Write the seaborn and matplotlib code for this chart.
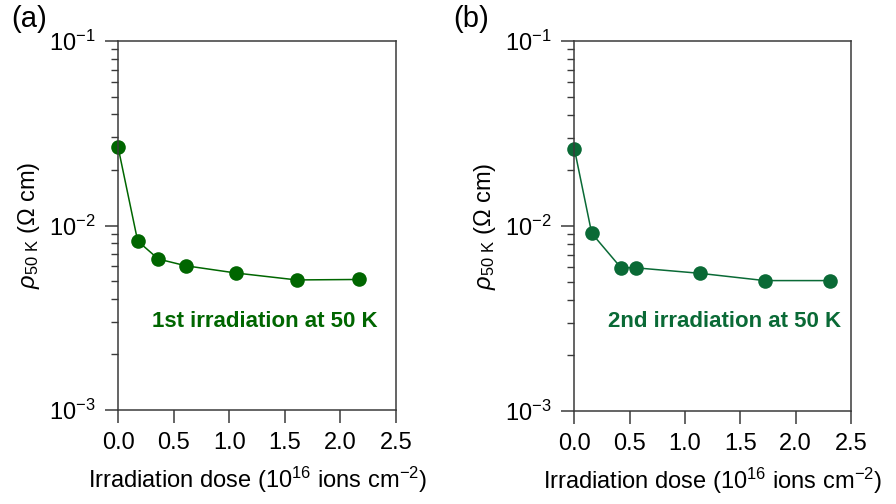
import numpy as np
import pandas as pd
import matplotlib
matplotlib.use("Agg")
import matplotlib.pyplot as plt
import seaborn as sns
from matplotlib.ticker import LogLocator, LogFormatterMathtext, NullFormatter, MultipleLocator

# ---- data ----
dose_a = [0.0, 0.177, 0.363, 0.61, 1.058, 1.607, 2.17]
rho_a = [0.0267, 0.00824, 0.00658, 0.00605, 0.00553, 0.00507, 0.0051]
dose_b = [0.0, 0.157, 0.42, 0.56, 1.135, 1.72, 2.31]
rho_b = [0.0262, 0.00914, 0.00596, 0.00594, 0.00555, 0.00507, 0.00507]
panel_labels = ["(a)", "(b)"]
annotations = ["1st irradiation at 50 K", "2nd irradiation at 50 K"]
colors = ["#006600", "#0a6a36"]
xlabel = r"Irradiation dose (10$^{16}$ ions cm$^{-2}$)"
ylabel = r"$\rho_{\mathrm{50\ K}}$ ($\Omega$ cm)"

sns.set_style("ticks")
plt.rcParams["font.family"] = ["Liberation Sans", "DejaVu Sans"]
plt.rcParams["mathtext.fontset"] = "custom"
plt.rcParams["mathtext.rm"] = "Liberation Sans"
plt.rcParams["mathtext.it"] = "Liberation Sans:italic"
plt.rcParams["mathtext.bf"] = "Liberation Sans:bold"
plt.rcParams["text.color"] = "black"
plt.rcParams["axes.labelcolor"] = "black"
plt.rcParams["xtick.labelcolor"] = "black"
plt.rcParams["ytick.labelcolor"] = "black"

fig = plt.figure(figsize=(8.96, 5.04), dpi=100)
axes = [fig.add_axes([0.1317, 0.1865, 0.3103, 0.7321]),
        fig.add_axes([0.6410, 0.1845, 0.3088, 0.7341])]

datasets = [(dose_a, rho_a), (dose_b, rho_b)]
text_x = [2.335, 2.415]
text_y = [0.00283, 0.00283]
label_pos = [(0.012, 0.962), (0.506, 0.962)]
spine_col = "#3a3a3a"

for i, ax in enumerate(axes):
    x, y = datasets[i]
    df = pd.DataFrame({"dose": x, "rho": y})
    sns.lineplot(data=df, x="dose", y="rho", ax=ax, color=colors[i],
                 marker="o", markersize=10.5, markeredgewidth=0,
                 linewidth=1.1, clip_on=False)
    ax.set_yscale("log")
    ax.set_ylim(1e-3, 1e-1)
    ax.set_xlim(0, 2.5)
    ax.xaxis.set_major_locator(MultipleLocator(0.5))
    ax.xaxis.set_major_formatter(plt.FuncFormatter(lambda v, p: f"{v:.1f}"))
    ax.yaxis.set_major_locator(LogLocator(base=10, numticks=10))
    ax.yaxis.set_minor_locator(LogLocator(base=10, subs=np.arange(2, 10), numticks=20))
    ax.yaxis.set_minor_formatter(NullFormatter())
    ax.yaxis.set_major_formatter(LogFormatterMathtext())
    for s in ax.spines.values():
        s.set_visible(True)
        s.set_color(spine_col)
        s.set_linewidth(1.1)
    ax.tick_params(axis="both", which="major", direction="out", length=9.5,
                   width=1.1, color=spine_col, labelsize=17, pad=6,
                   labelcolor="black")
    ax.tick_params(axis="y", which="minor", direction="out", length=5,
                   width=1.0, color=spine_col)
    ax.tick_params(axis="y", which="major", pad=7)
    ax.set_xlabel(xlabel, fontsize=17, labelpad=8, color="black")
    ax.set_ylabel(ylabel, fontsize=17, labelpad=5, color="black")
    ax.text(text_x[i], text_y[i], annotations[i], color=colors[i],
            fontsize=16, fontweight="bold", ha="right", va="baseline")
    fig.text(label_pos[i][0], label_pos[i][1], panel_labels[i],
             fontsize=21, ha="left", va="center", color="black")

fig.savefig("out.png", dpi=100)
